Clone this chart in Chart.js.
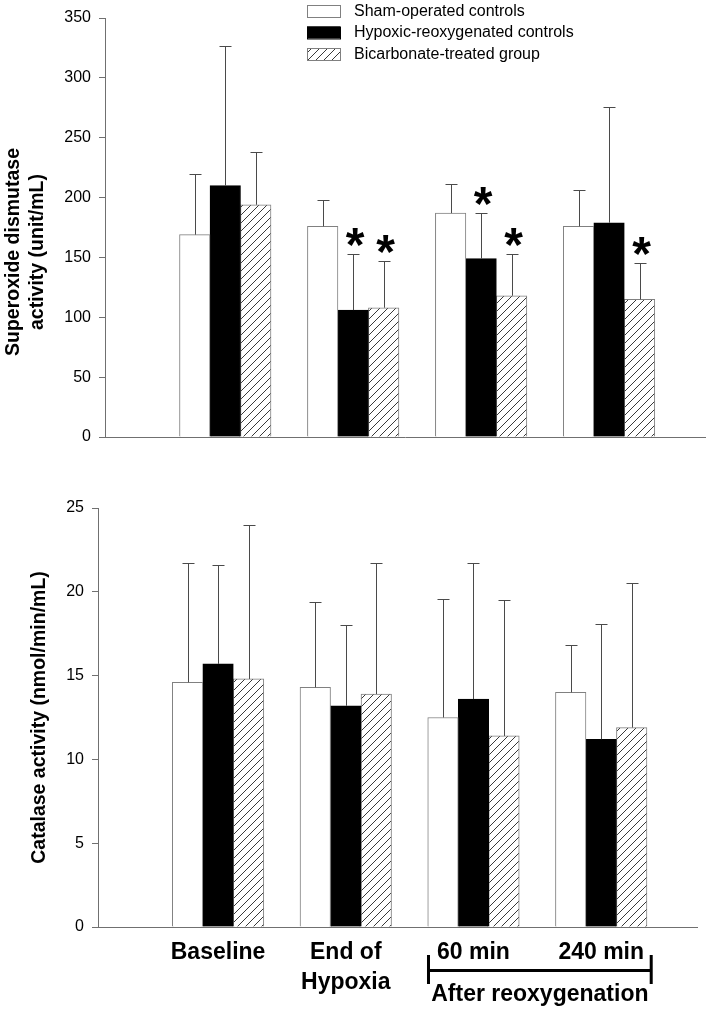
<!DOCTYPE html>
<html>
<head>
<meta charset="utf-8">
<script src="https://cdn.jsdelivr.net/npm/chart.js@4.4.1/dist/chart.umd.min.js"></script>
<style>
    html, body { margin: 0; padding: 0; background: #fff; }
    .panel { position: absolute; left: 0; width: 710px; }
    #topPanel { top: 0; height: 460px; }
    #bottomPanel { top: 460px; height: 550px; }
</style>
</head>
<body>
<div class="panel" id="topPanel"><canvas id="sodChart"></canvas></div>
<div class="panel" id="bottomPanel"><canvas id="catChart"></canvas></div>
<script>
// ---- data ----
const groupLabels = [['Baseline'], ['End of', 'Hypoxia'], ['60 min'], ['240 min']];
const groupPositions = [1, 2, 3, 4];
const seriesNames = ['Sham-operated controls', 'Hypoxic-reoxygenated controls', 'Bicarbonate-treated group'];
const bracketLabel = 'After reoxygenation';

// superoxide dismutase (unit/mL), mean and SD
const sodSham = [169, 176, 187, 176];
const sodHypoxic = [210, 106, 149, 179];
const sodBicarb = [194, 108, 118, 115];
const sodShamSd = [51, 22, 24, 30];
const sodHypoxicSd = [117, 47, 38, 97];
const sodBicarbSd = [44, 39, 35, 30];
const sodShamStar = [false, false, false, false];
const sodHypoxicStar = [false, true, true, false];
const sodBicarbStar = [false, true, true, true];
const sodTicks = [0, 50, 100, 150, 200, 250, 300, 350];

// catalase (nmol/min/mL), mean and SD
const catSham = [14.6, 14.3, 12.5, 14.0];
const catHypoxic = [15.7, 13.2, 13.6, 11.2];
const catBicarb = [14.8, 13.9, 11.4, 11.9];
const catShamSd = [7.1, 5.1, 7.1, 2.8];
const catHypoxicSd = [5.9, 4.8, 8.1, 6.9];
const catBicarbSd = [9.2, 7.8, 8.1, 8.6];
const catTicks = [0, 5, 10, 15, 20, 25];

Chart.defaults.font.family = "'Liberation Sans', Arial, sans-serif";
Chart.defaults.color = '#000';

const FONT = "'Liberation Sans', Arial, sans-serif";
const AXIS_COLOR = '#707070';

function makeHatch() {
    const c = document.createElement('canvas');
    c.width = 8; c.height = 8;
    const g = c.getContext('2d');
    g.fillStyle = '#fff';
    g.fillRect(0, 0, 8, 8);
    g.strokeStyle = '#222';
    g.lineWidth = 0.9;
    g.beginPath();
    g.moveTo(0, 8); g.lineTo(8, 0);
    g.moveTo(-2, 2); g.lineTo(2, -2);
    g.moveTo(6, 10); g.lineTo(10, 6);
    g.stroke();
    return g.createPattern(c, 'repeat');
}
const hatch = makeHatch();

function toPoints(values) {
    return values.map((v, i) => ({ x: groupPositions[i], y: v }));
}

function makeDatasets(sham, hyp, bic, shamSd, hypSd, bicSd, stars) {
    return [
        { label: seriesNames[0], data: toPoints(sham), errors: shamSd, stars: stars ? stars[0] : null,
          backgroundColor: '#fff', borderColor: '#808080', borderWidth: 1 },
        { label: seriesNames[1], data: toPoints(hyp), errors: hypSd, stars: stars ? stars[1] : null,
          backgroundColor: '#000', borderColor: '#000', borderWidth: 1 },
        { label: seriesNames[2], data: toPoints(bic), errors: bicSd, stars: stars ? stars[2] : null,
          backgroundColor: hatch, borderColor: '#808080', borderWidth: 1 }
    ];
}

// error bars (upper only) + significance stars
const errorBarPlugin = {
    id: 'errorBars',
    afterDatasetsDraw(chart) {
        const ctx = chart.ctx;
        const y = chart.scales.y;
        ctx.save();
        chart.data.datasets.forEach((ds, i) => {
            const meta = chart.getDatasetMeta(i);
            meta.data.forEach((bar, j) => {
                const top = Math.round(y.getPixelForValue(ds.data[j].y + ds.errors[j])) + 0.5;
                const x = Math.round(bar.x) + 0.5;
                ctx.strokeStyle = '#4a4a4a';
                ctx.lineWidth = 1;
                ctx.beginPath();
                ctx.moveTo(x, bar.y);
                ctx.lineTo(x, top);
                ctx.moveTo(x - 6, top);
                ctx.lineTo(x + 6, top);
                ctx.stroke();
                if (ds.stars && ds.stars[j]) {
                    ctx.fillStyle = '#000';
                    ctx.font = 'bold 48px ' + FONT;
                    ctx.textAlign = 'center';
                    ctx.textBaseline = 'alphabetic';
                    ctx.fillText('*', bar.x + 2, top + 6);
                }
            });
        });
        ctx.restore();
    }
};

function yTitlePlugin(lines, cx, cy) {
    return {
        id: 'yTitle',
        afterDraw(chart) {
            const ctx = chart.ctx;
            const area = chart.chartArea;
            const midY = cy !== null ? cy : (area.top + area.bottom) / 2;
            ctx.save();
            ctx.fillStyle = '#000';
            ctx.font = 'bold 19.5px ' + FONT;
            ctx.textAlign = 'center';
            ctx.textBaseline = 'middle';
            lines.forEach((line, k) => {
                ctx.save();
                ctx.translate(cx + k * 24, midY);
                ctx.rotate(-Math.PI / 2);
                ctx.fillText(line, 0, 0);
                ctx.restore();
            });
            ctx.restore();
        }
    };
}

const legendPlugin = {
    id: 'boxLegend',
    afterDraw(chart) {
        const ctx = chart.ctx;
        ctx.save();
        ctx.font = '16px ' + FONT;
        ctx.textBaseline = 'middle';
        ctx.textAlign = 'left';
        chart.data.datasets.forEach((ds, i) => {
            const by = 5 + i * 21.5;
            ctx.fillStyle = ds.backgroundColor;
            ctx.fillRect(307, by, 33, 12);
            ctx.strokeStyle = ds.borderColor;
            ctx.lineWidth = 1;
            ctx.strokeRect(307.5, by + 0.5, 33, 12);
            ctx.fillStyle = '#000';
            ctx.fillText(ds.label, 354, by + 6.5);
        });
        ctx.restore();
    }
};

const groupLabelPlugin = {
    id: 'groupLabels',
    afterDraw(chart) {
        const ctx = chart.ctx;
        const x = chart.scales.x;
        const base = chart.chartArea.bottom;
        ctx.save();
        ctx.fillStyle = '#000';
        ctx.font = 'bold 23px ' + FONT;
        ctx.textAlign = 'center';
        ctx.textBaseline = 'alphabetic';
        groupLabels.forEach((lines, i) => {
            const px = x.getPixelForValue(groupPositions[i]);
            lines.forEach((line, k) => ctx.fillText(line, px, base + 32 + k * 30));
        });
        // bracket under the reoxygenation groups
        const x0 = x.getPixelForValue(groupPositions[2]) - 45;
        const x1 = x.getPixelForValue(groupPositions[3]) + 50;
        ctx.strokeStyle = '#000';
        ctx.lineWidth = 3;
        ctx.beginPath();
        ctx.moveTo(x0, base + 43.5); ctx.lineTo(x1, base + 43.5);
        ctx.moveTo(x0, base + 28); ctx.lineTo(x0, base + 57);
        ctx.moveTo(x1, base + 28); ctx.lineTo(x1, base + 57);
        ctx.stroke();
        ctx.fillText(bracketLabel, (x0 + x1) / 2, base + 74);
        ctx.restore();
    }
};

function makeOptions(axisX, yMax, ticks, padding) {
    return {
        responsive: true,
        maintainAspectRatio: false,
        animation: false,
        layout: { padding: padding },
        plugins: { legend: { display: false }, tooltip: { enabled: false } },
        scales: {
            x: {
                type: 'linear',
                min: 0.06,
                max: 4.75,
                offset: false,
                grid: { display: false, drawTicks: false },
                ticks: { display: false },
                border: { display: true, color: AXIS_COLOR, width: 1 }
            },
            y: {
                min: 0,
                max: yMax,
                afterBuildTicks: axis => { axis.ticks = ticks.map(v => ({ value: v })); },
                afterFit: axis => { axis.width = axisX; },
                grid: { display: true, drawOnChartArea: false, drawTicks: true, tickLength: 6, color: AXIS_COLOR },
                border: { display: true, color: AXIS_COLOR, width: 1 },
                ticks: { font: { size: 16 }, padding: 8, color: '#000' }
            }
        },
        datasets: { bar: { barThickness: 30.5, borderSkipped: 'bottom', grouped: true } }
    };
}

let sodChart = null;
let catChart = null;

function loadSodChart() {
    const ctx = document.getElementById('sodChart');
    if (sodChart) sodChart.destroy();
    sodChart = new Chart(ctx, {
        type: 'bar',
        data: { datasets: makeDatasets(sodSham, sodHypoxic, sodBicarb, sodShamSd, sodHypoxicSd, sodBicarbSd,
                                       [sodShamStar, sodHypoxicStar, sodBicarbStar]) },
        options: makeOptions(105, 350, sodTicks, { top: 18, right: 5, bottom: 23, left: 0 }),
        plugins: [errorBarPlugin, legendPlugin,
                  yTitlePlugin(['Superoxide dismutase', 'activity (unit/mL)'], 14, 252)]
    });
}

function loadCatChart() {
    const ctx = document.getElementById('catChart');
    if (catChart) catChart.destroy();
    catChart = new Chart(ctx, {
        type: 'bar',
        data: { datasets: makeDatasets(catSham, catHypoxic, catBicarb, catShamSd, catHypoxicSd, catBicarbSd, null) },
        options: makeOptions(98, 25, catTicks, { top: 48, right: 13, bottom: 83, left: 0 }),
        plugins: [errorBarPlugin, groupLabelPlugin,
                  yTitlePlugin(['Catalase activity (nmol/min/mL)'], 40, null)]
    });
}

loadSodChart();
loadCatChart();
</script>
</body>
</html>
